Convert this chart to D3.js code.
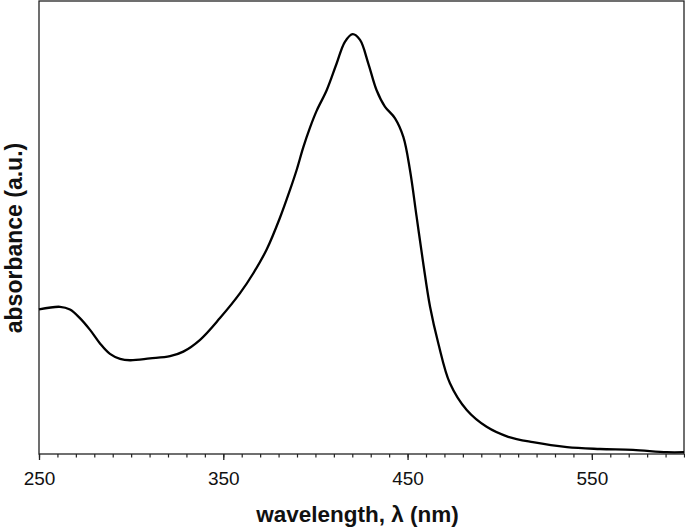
<!DOCTYPE html>
<html>
<head>
<meta charset="utf-8">
<script src="https://cdn.jsdelivr.net/npm/d3@7"></script>
<style>
    body { margin: 0; background: #fff; }
    svg { display: block; font-family: 'Liberation Sans', Arial, sans-serif; }
</style>
</head>
<body>
<svg></svg>
<script>
// spectrum (wavelength in nm, absorbance in a.u.)
const wavelength = [250, 261.4, 266.8, 272.2, 277.7, 283.1, 288.5, 294, 299.4, 310.2, 321.1, 328.3, 337.4, 348.2,
    359.1, 366.3, 373.6, 380.8, 386.2, 389.8, 393.4, 397, 400.7, 406.1, 411.5, 416, 420.2, 424.2, 428.7, 433.2,
    437.7, 443.2, 447.7, 451.3, 454.9, 458.5, 462.2, 466.7, 473, 482.1, 492.9, 504.6, 518, 536.5, 554.4, 572.3,
    590.7, 600]
const absorbance = [0.319, 0.325, 0.319, 0.300, 0.274, 0.244, 0.221, 0.210, 0.207, 0.211, 0.216, 0.226, 0.252, 0.300,
    0.355, 0.399, 0.452, 0.522, 0.583, 0.627, 0.677, 0.720, 0.758, 0.803, 0.862, 0.910, 0.927, 0.914, 0.862, 0.803,
    0.767, 0.741, 0.700, 0.627, 0.524, 0.421, 0.325, 0.244, 0.156, 0.097, 0.060, 0.038, 0.026, 0.015, 0.011, 0.009,
    0.004, 0.004]
const majorTicks = [250, 350, 450, 550]
const minorTicks = d3.range(250, 601, 10)

const width = 685,
    height = 529
const plotLeft = 39,
    plotRight = 684,
    plotTop = 1,
    plotBottom = 454

const svg = d3.select('svg').attr('width', width).attr('height', height)

const x = d3.scaleLinear().domain([250, 600]).range([plotLeft, plotRight])
const y = d3.scaleLinear().domain([0, 1]).range([plotBottom, plotTop])

const data = wavelength.map((w, i) => [w, absorbance[i]])

// frame
svg.append('rect')
    .attr('x', plotLeft)
    .attr('y', plotTop)
    .attr('width', plotRight - plotLeft)
    .attr('height', plotBottom - plotTop)
    .attr('fill', 'none')
    .attr('stroke', '#222')
    .attr('stroke-width', 1.3)

// minor ticks
svg.append('g')
    .attr('transform', `translate(0,${plotBottom})`)
    .call(d3.axisBottom(x).tickValues(minorTicks).tickSize(3.5).tickFormat(''))
    .call((g) => g.select('.domain').remove())
    .call((g) => g.selectAll('line').attr('stroke', '#222').attr('stroke-width', 1.2))

// major ticks + labels
svg.append('g')
    .attr('transform', `translate(0,${plotBottom})`)
    .call(d3.axisBottom(x).tickValues(majorTicks).tickSize(6).tickPadding(12).tickFormat(d3.format('d')))
    .call((g) => g.select('.domain').remove())
    .call((g) => g.selectAll('line').attr('stroke', '#222').attr('stroke-width', 1.3))
    .call((g) =>
        g.selectAll('text')
            .attr('font-size', 19)
            .attr('font-family', "'Liberation Sans', Arial, sans-serif")
            .attr('fill', '#111')
    )

const line = d3
    .line()
    .x((d) => x(d[0]))
    .y((d) => y(d[1]))
    .curve(d3.curveCatmullRom.alpha(0.5))

svg.append('path')
    .datum(data)
    .attr('fill', 'none')
    .attr('stroke', '#000')
    .attr('stroke-width', 2.3)
    .attr('d', line)

// axis titles
svg.append('text')
    .attr('x', 357.5)
    .attr('y', 522)
    .attr('text-anchor', 'middle')
    .attr('font-size', 22.5)
    .attr('font-weight', 'bold')
    .attr('fill', '#111')
    .text('wavelength, λ (nm)')

svg.append('text')
    .attr('transform', 'translate(22,238) rotate(-90)')
    .attr('text-anchor', 'middle')
    .attr('font-size', 23)
    .attr('font-weight', 'bold')
    .attr('fill', '#111')
    .text('absorbance (a.u.)')
</script>
</body>
</html>
